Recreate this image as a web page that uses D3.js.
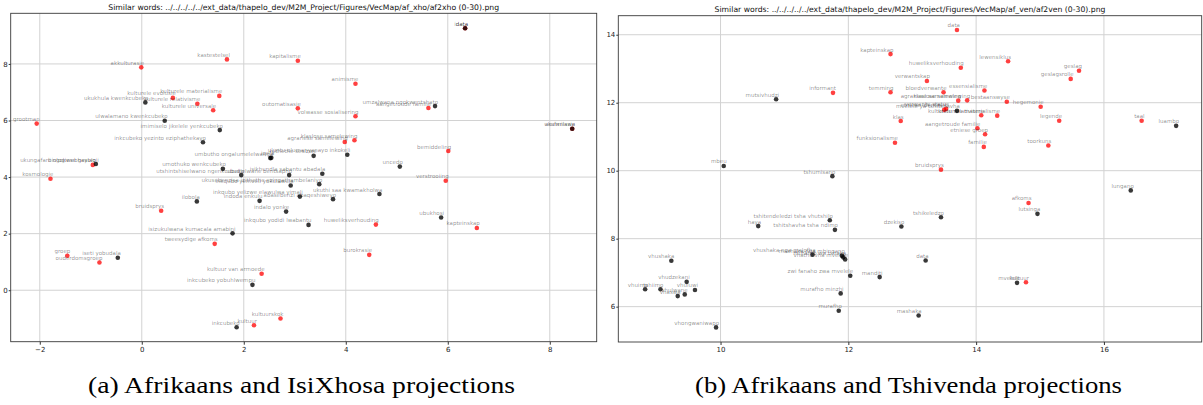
<!DOCTYPE html>
<html>
<head>
<meta charset="utf-8">
<script src="https://cdn.jsdelivr.net/npm/d3@7/dist/d3.min.js"></script>
<style>
  body { margin: 0; background: #fff; }
  svg text { font-family: "DejaVu Sans", sans-serif; }
</style>
</head>
<body>
<div id="chart"></div>
<script>
// ---- (a) Afrikaans (red) and IsiXhosa (black) ----
const xhoAfWords = ["akkulturasie", "grootman", "kulturele evolusie", "kulturele relativisme", "kulturele universale",
  "kulturele materialisme", "biologiese geslag", "kosmologie", "bruidsprys", "groep", "ouderdomsgroep",
  "kastestelsel", "kapitalisme", "animisme", "outomatisasie", "volwasse sosialisering", "agrariese samelewing",
  "klaslose samelewing", "aangetroude familie", "data", "assimilasie", "bemiddeling", "huweliksverhouding",
  "tweesydige afkoms", "burokrasie", "kultuur van armoede", "kultuurskok", "kultuur", "verstrooiing", "kapteinskap"];
const xhoAfX = [-0.01, -2.06, 0.61, 1.09, 1.40, 1.52, -0.96, -1.79, 0.38, -1.46, -0.83, 1.67, 3.06, 4.19, 3.06,
  4.19, 3.98, 4.17, 5.62, 6.34, 8.44, 6.01, 4.59, 1.43, 4.46, 2.35, 2.72, 2.20, 5.96, 6.57];
const xhoAfY = [7.88, 5.89, 6.80, 6.59, 6.36, 6.87, 4.43, 3.94, 2.81, 1.22, 0.98, 8.16, 8.11, 7.30, 6.43,
  6.15, 5.24, 5.30, 6.44, 9.26, 5.71, 4.92, 2.32, 1.64, 1.25, 0.58, -1.00, -1.24, 3.87, 2.20];

const xhoWords = ["ukukhula kwenkcubeko", "ulwalamano kwenkcubeko", "imimiselo jikelele yenkcubeko",
  "inkcubeko yezinto eziphathekayo", "ukungafani ngokwebhayoloji", "ilobola", "iseti yobudala",
  "umzalwana ngokwentshato", "idata", "ukufaniswa", "umbutho ongalumelelwanga", "iqela", "isithethe sesizwe",
  "uluntu olumanyanayo inkokeli", "umothuko wenkcubeko", "utshintshiselwano ngenkcubeko", "ubudlelwane bentsapho",
  "isikhundla sabantu abadala", "inkqubo yemveli yokulawula", "ukusebenzisa izithethe ezingathambelaniyo",
  "inkqubo yelizwe elawulwa yimali", "indoda enkulu", "abasebenzi abaqeshiweyo", "ukuthi saa kwamakholwa",
  "indalo yonke", "inkqubo yodidi lwabantu", "isizukulwana kumacala amabini", "inkcubeko yobuhlwempu",
  "inkcubeko", "uncedo", "ubukhosi"];
const xhoX = [0.07, 0.45, 1.53, 1.20, -0.90, 1.08, -0.47, 5.75, 6.34, 8.44, 2.52, 2.54, 3.37, 4.03, 1.59, 1.95,
  2.89, 3.54, 2.92, 3.48, 3.10, 2.31, 3.75, 4.66, 2.83, 3.27, 1.78, 2.17, 1.86, 5.06, 5.87];
const xhoY = [6.64, 5.99, 5.66, 5.23, 4.46, 3.14, 1.15, 6.51, 9.26, 5.71, 4.67, 4.68, 4.75, 4.79, 4.29, 4.07,
  4.07, 4.12, 3.70, 3.75, 3.31, 3.16, 3.22, 3.40, 2.78, 2.31, 2.01, 0.19, -1.31, 4.37, 2.57];

// ---- (b) Afrikaans (red) and Tshivenda (black) ----
const venAfWords = ["kapteinskap", "informant", "temming", "klas", "funksionalisme", "data", "huweliksverhouding",
  "lewensiklus", "geslag", "geslagsrolle", "verwantskap", "essensialisme", "bloedverwante", "agrariese samelewing",
  "klaslose samelewing", "bestaanswyse", "hegemonie", "verwante status", "etniese identiteit",
  "kulturele relativisme", "kulturele materialisme", "aangetroude familie", "etniese groep", "familie", "legende",
  "toorkuns", "taal", "bruidsprys", "afkoms", "kultuur"];
const venAfX = [12.66, 11.76, 12.66, 12.82, 12.73, 13.70, 13.76, 14.50, 15.61, 15.48, 13.23, 14.13, 13.49, 13.72,
  13.86, 14.48, 15.01, 13.53, 13.50, 14.08, 14.33, 14.02, 14.14, 14.12, 15.30, 15.13, 16.59, 13.45, 14.82, 14.78];
const venAfY = [13.43, 12.29, 12.31, 11.46, 10.82, 14.14, 13.03, 13.22, 12.94, 12.70, 12.64, 12.36, 12.31, 12.06,
  12.07, 12.03, 11.88, 11.82, 11.79, 11.63, 11.62, 11.25, 11.07, 10.70, 11.47, 10.74, 11.47, 10.03, 9.05, 6.72];

const venWords = ["mutsivhudzi", "mbeu", "tshumisano", "luambo", "tshitendeledzi tsha vhutshilo", "haya",
  "tshitshavha tsha ndimo", "dzekiso", "vhushaka nga malofha", "mashaka nga mbingano", "murafho wa tshaka",
  "vhathu vha mvelele", "zwi fanaho zwa mvelele", "manditi", "murafho minzhi", "murafho", "mashaka",
  "vhongwaniwapo", "vhushaka", "vhudzekani", "vhuimo", "tshiimo", "vhuluwi", "vhulwane", "vhaswa", "lungano",
  "lutsinga", "tshikeledzo", "data", "mvelele", "mvelele ya tshitshavha"];
const venX = [10.87, 10.05, 11.75, 17.13, 11.71, 10.59, 11.79, 12.83, 11.44, 11.90, 11.92, 11.95, 12.03, 12.49,
  11.88, 11.85, 13.10, 9.93, 9.23, 9.47, 8.82, 9.06, 9.60, 9.44, 9.33, 16.42, 14.96, 13.45, 13.21, 14.64, 13.70];
const venY = [12.10, 10.14, 9.84, 11.32, 8.54, 8.37, 8.26, 8.36, 7.53, 7.50, 7.45, 7.39, 6.91, 6.87, 6.39, 5.88,
  5.74, 5.39, 7.35, 6.73, 6.51, 6.51, 6.49, 6.36, 6.31, 9.42, 8.73, 8.63, 7.36, 6.70, 11.76];

const xhoXTicks = [-2, 0, 2, 4, 6, 8];
const xhoYTicks = [0, 2, 4, 6, 8];
const venXTicks = [10, 12, 14, 16];
const venYTicks = [6, 8, 10, 12, 14];

const width = 1203, height = 405;

const svg = d3.select("#chart")
  .append("svg")
  .attr("width", width)
  .attr("height", height);

function drawPanel(p) {
  const x = d3.scaleLinear().domain(p.xDomain).range([p.left, p.right]);
  const y = d3.scaleLinear().domain(p.yDomain).range([p.bottom, p.top]);
  const g = svg.append("g");

  // grid
  g.selectAll(".gx").data(p.xTicks).enter().append("line")
    .attr("x1", d => x(d)).attr("x2", d => x(d))
    .attr("y1", p.top).attr("y2", p.bottom)
    .attr("stroke", "#d2d2d2").attr("stroke-width", 1);
  g.selectAll(".gy").data(p.yTicks).enter().append("line")
    .attr("x1", p.left).attr("x2", p.right)
    .attr("y1", d => y(d)).attr("y2", d => y(d))
    .attr("stroke", "#d2d2d2").attr("stroke-width", 1);

  // axes
  const ax = g.append("g")
    .attr("transform", `translate(0,${p.bottom})`)
    .call(d3.axisBottom(x).tickValues(p.xTicks).tickSize(3).tickPadding(2).tickFormat(d3.format("d")));
  const ay = g.append("g")
    .attr("transform", `translate(${p.left},0)`)
    .call(d3.axisLeft(y).tickValues(p.yTicks).tickSize(2).tickPadding(1).tickFormat(d3.format("d")));
  [ax, ay].forEach(a => {
    a.select(".domain").remove();
    a.selectAll("line").attr("stroke", "#333");
    a.selectAll("text").attr("fill", "#222").style("font-size", "7px")
      .style("font-family", "DejaVu Sans, sans-serif");
  });

  // points: red first, black on top
  p.series.forEach(s => {
    g.selectAll(null).data(s.words).enter().append("circle")
      .attr("cx", (d, i) => x(s.xs[i]))
      .attr("cy", (d, i) => y(s.ys[i]))
      .attr("r", 2.3)
      .attr("fill", s.color)
      .attr("fill-opacity", s.opacity);
  });

  // word labels
  p.series.forEach(s => {
    g.selectAll(null).data(s.words).enter().append("text")
      .attr("x", (d, i) => x(s.xs[i]) + 3)
      .attr("y", (d, i) => y(s.ys[i]) - 2.5)
      .attr("text-anchor", "end")
      .attr("fill", "#000")
      .attr("fill-opacity", 0.45)
      .style("font-size", "5.5px")
      .text(d => d);
  });

  // frame
  g.append("rect")
    .attr("x", p.left).attr("y", p.top)
    .attr("width", p.right - p.left).attr("height", p.bottom - p.top)
    .attr("fill", "none").attr("stroke", "#3a3a3a").attr("stroke-width", 0.9);

  // title
  g.append("text")
    .attr("x", (p.left + p.right) / 2).attr("y", p.top - 3.5)
    .attr("text-anchor", "middle")
    .attr("fill", "#111")
    .style("font-size", "7.7px")
    .text(p.title);

  // caption (wide serif, like the LaTeX caption)
  svg.append("text")
    .attr("x", p.captionX).attr("y", 393)
    .attr("text-anchor", "middle")
    .attr("fill", "#000")
    .attr("textLength", 427)
    .attr("lengthAdjust", "spacingAndGlyphs")
    .style("font-family", "Liberation Serif, serif")
    .style("font-size", "23.5px")
    .text(p.caption);
}

drawPanel({
  left: 10.7, right: 596.7, top: 13.3, bottom: 341.7,
  xDomain: [-2.57, 8.92], yDomain: [-1.82, 9.79],
  xTicks: xhoXTicks, yTicks: xhoYTicks,
  title: "Similar words: ../../../../../ext_data/thapelo_dev/M2M_Project/Figures/VecMap/af_xho/af2xho (0-30).png",
  caption: "(a) Afrikaans and IsiXhosa projections", captionX: 301.5,
  series: [
    { words: xhoAfWords, xs: xhoAfX, ys: xhoAfY, color: "#ff0000", opacity: 0.75 },
    { words: xhoWords, xs: xhoX, ys: xhoY, color: "#000", opacity: 0.78 }
  ]
});

drawPanel({
  left: 618.3, right: 1201.7, top: 15.7, bottom: 342,
  xDomain: [8.40, 17.53], yDomain: [4.96, 14.56],
  xTicks: venXTicks, yTicks: venYTicks,
  title: "Similar words: ../../../../../ext_data/thapelo_dev/M2M_Project/Figures/VecMap/af_ven/af2ven (0-30).png",
  caption: "(b) Afrikaans and Tshivenda projections", captionX: 908.5,
  series: [
    { words: venAfWords, xs: venAfX, ys: venAfY, color: "#ff0000", opacity: 0.75 },
    { words: venWords, xs: venX, ys: venY, color: "#000", opacity: 0.78 }
  ]
});
</script>
</body>
</html>
